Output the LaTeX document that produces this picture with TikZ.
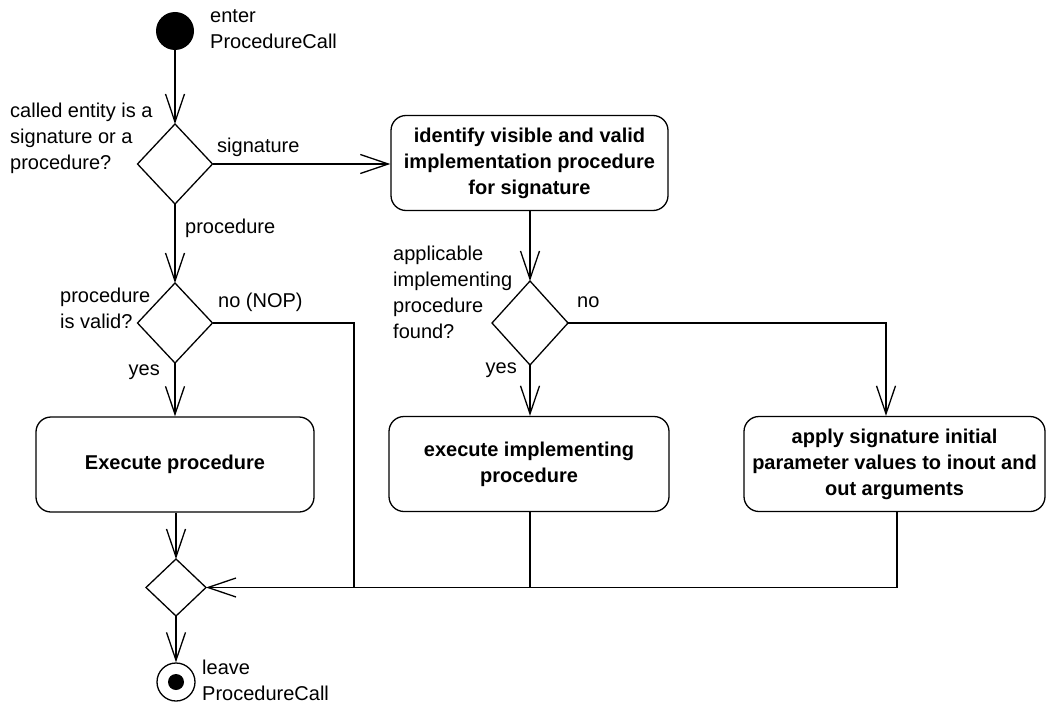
\documentclass[tikz,border=0pt]{standalone}
\usepackage{fontspec}
\setmainfont{Liberation Sans}
\usetikzlibrary{shapes.geometric,arrows.meta,calc}
\begin{document}
\begin{tikzpicture}[x=1pt,y=-1pt,
  every node/.style={font=\fontsize{20}{26}\selectfont},
  lbl/.style={inner sep=0pt, align=left},
  act/.style={draw, rounded corners=15pt, line width=1.3pt, minimum height=95pt, align=center, font=\fontsize{20}{26}\selectfont\bfseries, inner sep=0pt},
  dec/.style={draw, diamond, line width=1.3pt, inner sep=0pt, outer sep=0pt},
  flow/.style={line width=1.3pt, -{Straight Barb[length=28pt,width=19pt]}},
  plain/.style={line width=1.3pt},
]
\useasboundingbox (0,0) rectangle (1048,706);

% start
\node[circle, fill=black, minimum size=38pt, inner sep=0pt] (start) at (175,31) {};
\node[lbl, anchor=west] (startlbl) at (210,29.5) {enter\\ProcedureCall};

% decision 1
\node[dec, minimum width=75pt, minimum height=80pt] (d1) at (175,164) {};
\node[lbl, anchor=west] (d1lbl) at (10,138) {called entity is a\\signature or a\\procedure?};
\node[lbl, anchor=west] (siglbl) at (217,147) {signature};
\node[lbl, anchor=west] (proclbl) at (185,228) {procedure};

% identify box
\node[act, minimum width=277pt] (b1) at (529.5,163) {identify visible and valid\\implementation procedure\\for signature};

% decision 2
\node[dec, minimum width=75pt, minimum height=80pt] (d2) at (175,323) {};
\node[lbl, anchor=west] (d2lbl) at (60,308) {procedure\\is valid?};
\node[lbl, anchor=west] (noplbl) at (218,302) {no (NOP)};
\node[lbl, anchor=east] (yes1) at (160,372) {yes};

% decision 3
\node[dec, minimum width=76pt, minimum height=84pt] (d3) at (530,323) {};
\node[lbl, anchor=west] (d3lbl) at (393,292.5) {applicable\\implementing\\procedure\\found?};
\node[lbl, anchor=west] (nolbl) at (577,302) {no};
\node[lbl, anchor=east] (yes2) at (517,370) {yes};

% action boxes
\node[act, minimum width=278pt] (b2) at (175,464.5) {Execute procedure};
\node[act, minimum width=280pt] (b3) at (529,464) {execute implementing\\procedure};
\node[act, minimum width=301pt] (b4) at (894.5,464) {apply signature initial\\parameter values to inout and\\out arguments};

% merge and end
\node[dec, minimum width=60pt, minimum height=57pt] (m) at (176,587.5) {};
\node[circle, draw, line width=1.3pt, minimum size=38pt, inner sep=0pt] (end) at (176,682) {};
\fill (end.center) circle (8pt);
\node[lbl, anchor=west] (endlbl) at (202,680.5) {leave\\ProcedureCall};

% connectors
\draw[flow] (start) -- (d1);
\draw[flow] (d1.east) -- (d1.east -| b1.west);
\draw[flow] (d1) -- (d2);
\draw[flow] (d2) -- (b2);
\coordinate (nop1) at (354,323);
\coordinate (nop2) at (354,587.5);
\draw[plain] (d2.east) -- (nop1) -- (nop2);
\draw[flow] (b2.south -| m.north) -- (m.north);
\draw[flow] (m) -- (end);
\draw[flow] (b1.south -| d3.north) -- (d3.north);
\draw[flow] (d3.south) -- (d3.south |- b3.north);
\coordinate (no1) at (886,323);
\draw[flow] (d3.east) -- (no1) -- (no1 |- b4.north);
\coordinate (j4) at (897,587.5);
\draw[flow] (b4.south -| j4) -- (j4) -- (m.east);
\draw[plain] (b3.south -| d3.south) -- (d3.south |- j4);
\end{tikzpicture}
\end{document}
